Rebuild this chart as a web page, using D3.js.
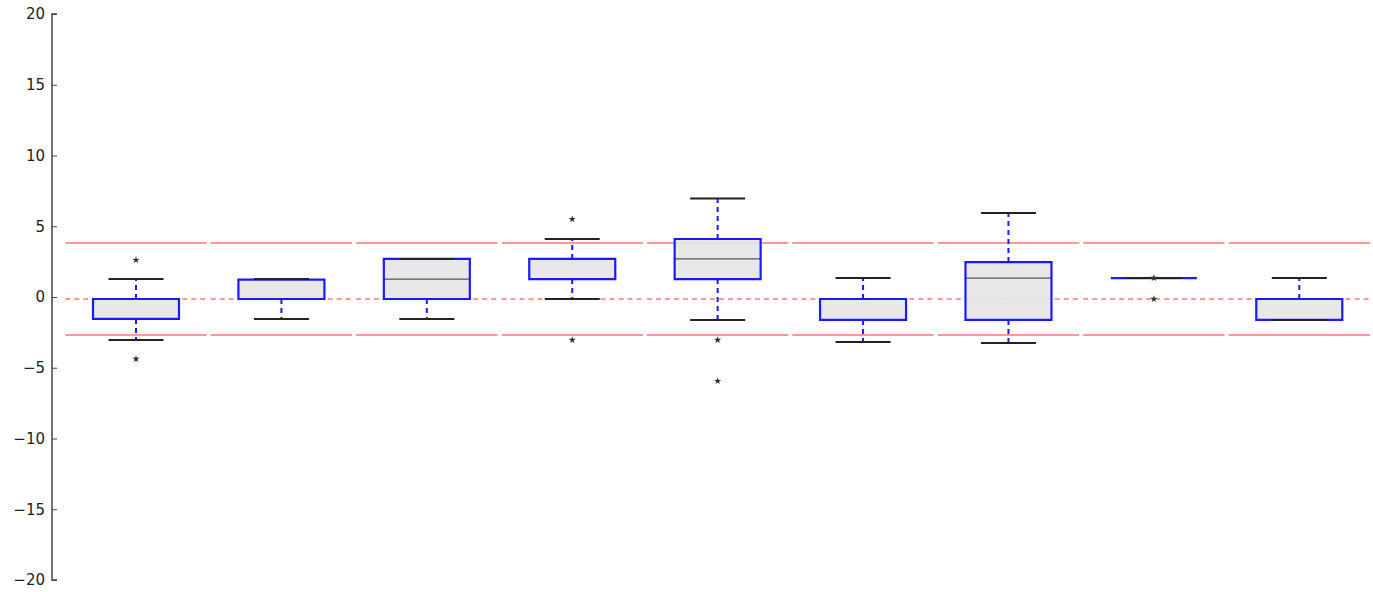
<!DOCTYPE html>
<html lang="en">
<head>
<meta charset="UTF-8">
<style>
  body { margin: 0; background: #fff; }
  .axis text { font-family: "DejaVu Sans", sans-serif; font-size: 15px; fill: #222; }
</style>
</head>
<body>
<svg id="chart" width="1373" height="592"></svg>
<script src="https://d3js.org/d3.v7.min.js"></script>
<script>
// group data
var groups = ["g1", "g2", "g3", "g4", "g5", "g6", "g7", "g8", "g9"];
var q1      = [-1.55, -0.14, -0.14, 1.27, 1.27, -1.62, -1.62, 1.34, -1.62];
var q3      = [-0.14, 1.23, 2.69, 2.69, 4.10, -0.14, 2.47, 1.34, -0.14];
var medians = [-1.55, -0.14, 1.27, 1.27, 2.69, -1.62, 1.34, 1.34, -1.62];
var whiskHi = [1.27, 1.27, 2.69, 4.10, 6.96, 1.34, 5.94, 1.34, 1.34];
var whiskLo = [-3.04, -1.55, -1.55, -0.14, -1.62, -3.18, -3.25, 1.34, -1.62];
var outliers = [[2.61, -4.38], [], [], [5.5, -3.04], [-3.04, -5.94], [], [], [1.34, -0.14], []];
// reference lines drawn per group
var refHi  = [3.82, 3.82, 3.82, 3.82, 3.82, 3.82, 3.82, 3.82, 3.82];
var refMid = [-0.14, -0.14, -0.14, -0.14, -0.14, -0.14, -0.14, -0.14, -0.14];
var refLo  = [-2.69, -2.69, -2.69, -2.69, -2.69, -2.69, -2.69, -2.69, -2.69];
var yTicks = [-20, -15, -10, -5, 0, 5, 10, 15, 20];

var svg = d3.select("#chart");

var x = d3.scaleBand().domain(groups).range([63.3, 1372]).padding(0);
var y = d3.scaleLinear().domain([-20, 20]).range([580, 14]);

var boxW = 86, capW = 55;

var rows = groups.map(function(g, i) {
  return { g: g, q1: q1[i], q3: q3[i], med: medians[i], hi: whiskHi[i], lo: whiskLo[i],
           out: outliers[i], rh: refHi[i], rm: refMid[i], rl: refLo[i] };
});

// red reference lines
var ref = svg.append("g");
rows.forEach(function(d) {
  var x0 = x(d.g) + 2, x1 = x(d.g) + x.bandwidth() - 2;
  [[d.rh, null], [d.rm, "5,4"], [d.rl, null]].forEach(function(r) {
    ref.append("line")
      .attr("x1", x0).attr("x2", x1)
      .attr("y1", y(r[0])).attr("y2", y(r[0]))
      .attr("stroke", "#ff9a9a")
      .attr("stroke-width", 2)
      .attr("stroke-dasharray", r[1]);
  });
});

var g = svg.append("g")
  .selectAll("g")
  .data(rows)
  .enter()
  .append("g")
    .attr("transform", function(d) { return "translate(" + (x(d.g) + x.bandwidth() / 2) + ",0)"; });

// box fill
g.append("rect")
  .attr("x", -boxW / 2)
  .attr("width", boxW)
  .attr("y", function(d) { return y(d.q3); })
  .attr("height", function(d) { return y(d.q1) - y(d.q3); })
  .attr("fill", "#e6e6e6")
  .attr("fill-opacity", 0.9);

// median
g.append("line")
  .attr("x1", -boxW / 2).attr("x2", boxW / 2)
  .attr("y1", function(d) { return y(d.med); })
  .attr("y2", function(d) { return y(d.med); })
  .attr("stroke", "#555")
  .attr("stroke-width", 1.3);

// box outline (path so that a flat box still shows)
g.append("path")
  .attr("d", function(d) {
    var t = y(d.q3), b = y(d.q1), l = -boxW / 2, r = boxW / 2;
    return "M" + l + "," + t + "H" + r + "V" + b + "H" + l + "Z";
  })
  .attr("fill", "none")
  .attr("stroke", "#1a1aff")
  .attr("stroke-width", 2.2);

// whiskers
g.append("line")
  .attr("x1", 0).attr("x2", 0)
  .attr("y1", function(d) { return y(d.q3); })
  .attr("y2", function(d) { return y(d.hi); })
  .attr("stroke", "#1a1aff").attr("stroke-width", 2)
  .attr("stroke-dasharray", "5,4");
g.append("line")
  .attr("x1", 0).attr("x2", 0)
  .attr("y1", function(d) { return y(d.q1); })
  .attr("y2", function(d) { return y(d.lo); })
  .attr("stroke", "#1a1aff").attr("stroke-width", 2)
  .attr("stroke-dasharray", "5,4");

// caps
["hi", "lo"].forEach(function(k) {
  g.append("line")
    .attr("x1", -capW / 2).attr("x2", capW / 2)
    .attr("y1", function(d) { return y(d[k]); })
    .attr("y2", function(d) { return y(d[k]); })
    .attr("stroke", "#222")
    .attr("stroke-width", 2);
});

// outliers
g.selectAll("path.out")
  .data(function(d) { return d.out; })
  .enter()
  .append("path")
    .attr("class", "out")
    .attr("d", d3.symbol().type(d3.symbolStar).size(16))
    .attr("transform", function(v) { return "translate(0," + y(v) + ")"; })
    .attr("fill", "#1f3a1f");

// left axis, ticks pointing inward
var axis = svg.append("g")
  .attr("class", "axis")
  .attr("transform", "translate(52,0)")
  .call(d3.axisRight(y).tickValues(yTicks).tickSize(5)
    .tickFormat(function(d) { return d < 0 ? "\u2212" + Math.abs(d) : d; }));
axis.select(".domain").attr("stroke", "#444").attr("stroke-width", 1.5).attr("d", "M5,14H0V580H5");
axis.selectAll(".tick line").attr("stroke", "#444");
axis.selectAll(".tick text")
  .attr("x", -7)
  .attr("text-anchor", "end");
</script>
</body>
</html>
